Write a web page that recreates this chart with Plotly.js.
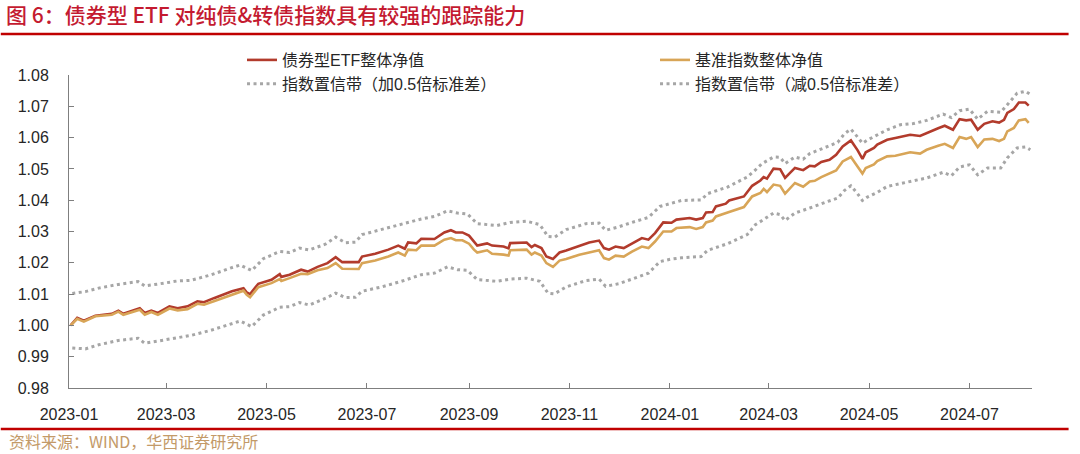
<!DOCTYPE html>
<html>
<head>
<meta charset="utf-8">
<script src="https://cdn.plot.ly/plotly-3.0.1.min.js"></script>
<style>
  html, body { margin: 0; padding: 0; background: #fff; }
  #chart { width: 1080px; height: 454px; }
</style>
</head>
<body>
<div id="chart"></div>
<script>
// Colors
const ETF_COLOR = "#B23B2C"; // brick red
const BENCH_COLOR = "#D8A557"; // tan
const BAND_COLOR = "#A6A6A6"; // grey dots
const TITLE_COLOR = "#C41A30";
const SOURCE_COLOR = "#C39A68";
const AXIS_COLOR = "#7f7f7f";
const FONT = "Liberation Sans, Arial, Noto Sans CJK SC, sans-serif";

// Plot area in pixels (window is 1080x454)
const PLOT = { l: 69, r: 37, t: 75, b: 66 };
const PLOT_W = 1080 - PLOT.l - PLOT.r;
const PLOT_H = 454 - PLOT.t - PLOT.b;

// pixel -> paper helpers for the decorations outside the plot area
const px = (x) => (x - PLOT.l) / PLOT_W;
const py = (y) => 1 - (y - PLOT.t) / PLOT_H;

// Net value of bond ETFs vs. their benchmark indices
const navDates = [
  "2023-01-02", "2023-01-06", "2023-01-10", "2023-01-17", "2023-01-27", "2023-01-31",
  "2023-02-03", "2023-02-13", "2023-02-16", "2023-02-20", "2023-02-24", "2023-03-03",
  "2023-03-08", "2023-03-14", "2023-03-20", "2023-03-24", "2023-03-30", "2023-04-04",
  "2023-04-10", "2023-04-17", "2023-04-19", "2023-04-21", "2023-04-26", "2023-05-04",
  "2023-05-09", "2023-05-10", "2023-05-15", "2023-05-22", "2023-05-26", "2023-06-01",
  "2023-06-07", "2023-06-12", "2023-06-16", "2023-06-26", "2023-06-28", "2023-07-06",
  "2023-07-14", "2023-07-20", "2023-07-24", "2023-07-26", "2023-07-31", "2023-08-03",
  "2023-08-11", "2023-08-17", "2023-08-21", "2023-08-24", "2023-08-28", "2023-09-01",
  "2023-09-04", "2023-09-06", "2023-09-12", "2023-09-15", "2023-09-22", "2023-09-25",
  "2023-09-26", "2023-10-06", "2023-10-09", "2023-10-11", "2023-10-15", "2023-10-18",
  "2023-10-22", "2023-10-26", "2023-10-30", "2023-11-07", "2023-11-13", "2023-11-19",
  "2023-11-22", "2023-11-25", "2023-11-29", "2023-12-04", "2023-12-09", "2023-12-15",
  "2023-12-19", "2023-12-23", "2023-12-28", "2024-01-02", "2024-01-05", "2024-01-13",
  "2024-01-17", "2024-01-21", "2024-01-23", "2024-01-27", "2024-01-29", "2024-02-04",
  "2024-02-06", "2024-02-15", "2024-02-20", "2024-02-25", "2024-02-27", "2024-02-29",
  "2024-03-04", "2024-03-08", "2024-03-11", "2024-03-17", "2024-03-22", "2024-03-26",
  "2024-03-29", "2024-04-02", "2024-04-07", "2024-04-11", "2024-04-15", "2024-04-20",
  "2024-04-24", "2024-04-27", "2024-04-29", "2024-05-04", "2024-05-06", "2024-05-12",
  "2024-05-17", "2024-05-26", "2024-06-01", "2024-06-05", "2024-06-12", "2024-06-16",
  "2024-06-21", "2024-06-25", "2024-06-29", "2024-07-02", "2024-07-06", "2024-07-10",
  "2024-07-15", "2024-07-19", "2024-07-22", "2024-07-24", "2024-07-28", "2024-07-31",
  "2024-08-04", "2024-08-06",
];

const etfNav = [
  1.0000, 1.0024, 1.0015, 1.0031, 1.0037, 1.0047,
  1.0037, 1.0055, 1.0040, 1.0047, 1.0040, 1.0061,
  1.0055, 1.0061, 1.0077, 1.0074, 1.0087, 1.0098,
  1.0109, 1.0119, 1.0105, 1.0100, 1.0133, 1.0146,
  1.0164, 1.0155, 1.0162, 1.0178, 1.0172, 1.0187,
  1.0199, 1.0218, 1.0202, 1.0202, 1.0220, 1.0229,
  1.0242, 1.0255, 1.0245, 1.0265, 1.0262, 1.0277,
  1.0276, 1.0297, 1.0304, 1.0297, 1.0297, 1.0287,
  1.0268, 1.0255, 1.0262, 1.0255, 1.0252, 1.0246,
  1.0263, 1.0265, 1.0250, 1.0257, 1.0247, 1.0220,
  1.0212, 1.0233, 1.0239, 1.0255, 1.0265, 1.0271,
  1.0247, 1.0242, 1.0252, 1.0247, 1.0262, 1.0279,
  1.0274, 1.0295, 1.0329, 1.0328, 1.0338, 1.0343,
  1.0338, 1.0343, 1.0361, 1.0362, 1.0380, 1.0389,
  1.0399, 1.0412, 1.0446, 1.0463, 1.0474, 1.0469,
  1.0501, 1.0499, 1.0471, 1.0503, 1.0496, 1.0510,
  1.0508, 1.0522, 1.0529, 1.0545, 1.0572, 1.0591,
  1.0560, 1.0532, 1.0553, 1.0567, 1.0578, 1.0593,
  1.0599, 1.0609, 1.0605, 1.0615, 1.0630, 1.0638,
  1.0625, 1.0659, 1.0655, 1.0657, 1.0625, 1.0644,
  1.0652, 1.0648, 1.0657, 1.0679, 1.0691, 1.0712,
  1.0712, 1.0702,
];

const benchNav = [
  1.0000, 1.0021, 1.0012, 1.0029, 1.0034, 1.0044,
  1.0034, 1.0050, 1.0034, 1.0043, 1.0034, 1.0054,
  1.0048, 1.0052, 1.0069, 1.0066, 1.0077, 1.0087,
  1.0098, 1.0111, 1.0098, 1.0090, 1.0122, 1.0135,
  1.0148, 1.0142, 1.0151, 1.0165, 1.0164, 1.0176,
  1.0183, 1.0199, 1.0181, 1.0180, 1.0199, 1.0207,
  1.0220, 1.0233, 1.0223, 1.0242, 1.0240, 1.0255,
  1.0255, 1.0274, 1.0279, 1.0272, 1.0272, 1.0261,
  1.0242, 1.0233, 1.0240, 1.0229, 1.0226, 1.0223,
  1.0240, 1.0242, 1.0226, 1.0233, 1.0223, 1.0199,
  1.0187, 1.0207, 1.0212, 1.0226, 1.0233, 1.0240,
  1.0215, 1.0210, 1.0223, 1.0220, 1.0236, 1.0252,
  1.0247, 1.0268, 1.0300, 1.0300, 1.0311, 1.0314,
  1.0308, 1.0314, 1.0329, 1.0335, 1.0348, 1.0357,
  1.0362, 1.0378, 1.0412, 1.0423, 1.0436, 1.0426,
  1.0450, 1.0446, 1.0421, 1.0455, 1.0443, 1.0460,
  1.0462, 1.0474, 1.0485, 1.0495, 1.0524, 1.0538,
  1.0508, 1.0485, 1.0503, 1.0514, 1.0525, 1.0540,
  1.0542, 1.0553, 1.0549, 1.0561, 1.0574, 1.0580,
  1.0567, 1.0602, 1.0596, 1.0602, 1.0570, 1.0594,
  1.0596, 1.0589, 1.0596, 1.0620, 1.0631, 1.0655,
  1.0659, 1.0647,
];

// Index confidence band (+/- 0.5 std), sampled more sparsely
const bandDates = [
  "2023-01-03", "2023-01-11", "2023-01-19", "2023-01-31", "2023-02-12", "2023-02-16",
  "2023-02-24", "2023-03-08", "2023-03-16", "2023-03-28", "2023-04-09", "2023-04-15",
  "2023-04-22", "2023-04-29", "2023-05-09", "2023-05-15", "2023-05-21", "2023-05-27",
  "2023-06-06", "2023-06-12", "2023-06-18", "2023-06-24", "2023-06-28", "2023-07-10",
  "2023-07-22", "2023-08-03", "2023-08-11", "2023-08-19", "2023-08-25", "2023-08-31",
  "2023-09-06", "2023-09-18", "2023-09-26", "2023-10-06", "2023-10-14", "2023-10-19",
  "2023-10-23", "2023-10-30", "2023-11-11", "2023-11-19", "2023-11-23", "2023-12-01",
  "2023-12-09", "2023-12-19", "2023-12-26", "2024-01-02", "2024-01-08", "2024-01-20",
  "2024-01-24", "2024-02-05", "2024-02-17", "2024-02-22", "2024-02-26", "2024-03-04",
  "2024-03-08", "2024-03-11", "2024-03-17", "2024-03-22", "2024-03-26", "2024-04-06",
  "2024-04-12", "2024-04-16", "2024-04-20", "2024-04-24", "2024-04-27", "2024-04-30",
  "2024-05-06", "2024-05-12", "2024-05-20", "2024-05-28", "2024-06-05", "2024-06-15",
  "2024-06-20", "2024-06-25", "2024-07-01", "2024-07-06", "2024-07-12", "2024-07-20",
  "2024-07-24", "2024-07-30", "2024-08-04", "2024-08-07",
];

const bandUpper = [
  1.0102, 1.0108, 1.0119, 1.0131, 1.0140, 1.0126,
  1.0132, 1.0142, 1.0144, 1.0161, 1.0183, 1.0193,
  1.0175, 1.0213, 1.0236, 1.0233, 1.0247, 1.0241,
  1.0260, 1.0282, 1.0264, 1.0266, 1.0290, 1.0306,
  1.0324, 1.0340, 1.0348, 1.0366, 1.0359, 1.0356,
  1.0325, 1.0319, 1.0329, 1.0333, 1.0322, 1.0284,
  1.0282, 1.0306, 1.0325, 1.0327, 1.0304, 1.0315,
  1.0329, 1.0345, 1.0380, 1.0391, 1.0399, 1.0401,
  1.0421, 1.0442, 1.0474, 1.0497, 1.0517, 1.0538,
  1.0537, 1.0517, 1.0538, 1.0531, 1.0549, 1.0572,
  1.0585, 1.0612, 1.0627, 1.0602, 1.0582, 1.0592,
  1.0609, 1.0625, 1.0641, 1.0645, 1.0655, 1.0675,
  1.0664, 1.0686, 1.0691, 1.0659, 1.0684, 1.0681,
  1.0705, 1.0742, 1.0748, 1.0738,
];

const bandLower = [
  0.9928, 0.9925, 0.9938, 0.9952, 0.9959, 0.9943,
  0.9950, 0.9962, 0.9968, 0.9984, 1.0005, 1.0014,
  0.9996, 1.0033, 1.0058, 1.0060, 1.0073, 1.0065,
  1.0087, 1.0103, 1.0089, 1.0090, 1.0109, 1.0123,
  1.0141, 1.0162, 1.0167, 1.0187, 1.0178, 1.0176,
  1.0146, 1.0141, 1.0148, 1.0151, 1.0141, 1.0103,
  1.0101, 1.0123, 1.0143, 1.0148, 1.0125, 1.0133,
  1.0148, 1.0167, 1.0204, 1.0212, 1.0216, 1.0220,
  1.0240, 1.0261, 1.0290, 1.0322, 1.0335, 1.0359,
  1.0354, 1.0335, 1.0359, 1.0367, 1.0375, 1.0396,
  1.0407, 1.0431, 1.0446, 1.0421, 1.0399, 1.0410,
  1.0425, 1.0444, 1.0453, 1.0463, 1.0471, 1.0489,
  1.0478, 1.0506, 1.0513, 1.0481, 1.0503, 1.0503,
  1.0535, 1.0567, 1.0570, 1.0561,
];

const traces = [
  {
    x: navDates,
    y: etfNav,
    name: "债券型ETF整体净值",
    type: "scatter",
    mode: "lines",
    line: { color: ETF_COLOR, width: 2.6 },
  },
  {
    x: navDates,
    y: benchNav,
    name: "基准指数整体净值",
    type: "scatter",
    mode: "lines",
    line: { color: BENCH_COLOR, width: 2.6 },
  },
  {
    x: bandDates,
    y: bandUpper,
    name: "指数置信带（加0.5倍标准差）",
    type: "scatter",
    mode: "lines",
    line: { color: BAND_COLOR, width: 3, dash: "3px,3.5px" },
  },
  {
    x: bandDates,
    y: bandLower,
    name: "指数置信带（减0.5倍标准差）",
    type: "scatter",
    mode: "lines",
    line: { color: BAND_COLOR, width: 3, dash: "3px,3.5px" },
  },
];

const layout = {
  width: 1080,
  height: 454,
  margin: PLOT,
  paper_bgcolor: "#fff",
  plot_bgcolor: "#fff",
  font: { family: FONT, size: 16, color: "#262626" },
  showlegend: true,
  title: {
    text: "图 6：债券型 ETF 对纯债&转债指数具有较强的跟踪能力",
    font: { family: "Noto Sans CJK SC, sans-serif", size: 21, color: TITLE_COLOR, weight: 500 },
    xref: "container",
    yref: "container",
    x: 6 / 1080,
    xanchor: "left",
    y: 1 - 16 / 454,
    yanchor: "middle",
  },
  legend: {
    orientation: "h",
    x: px(244),
    xanchor: "left",
    y: py(43),
    yanchor: "top",
    entrywidth: 368,
    entrywidthmode: "pixels",
    font: { family: FONT, size: 16, color: "#262626" },
    bgcolor: "rgba(0,0,0,0)",
  },
  xaxis: {
    type: "date",
    range: ["2023-01-01", "2024-08-08"],
    tick0: "2023-01-01",
    dtick: "M2",
    tickformat: "%Y-%m",
    ticks: "inside",
    ticklen: 5,
    tickcolor: AXIS_COLOR,
    ticklabelstandoff: 12,
    showline: true,
    linecolor: AXIS_COLOR,
    linewidth: 1,
    showgrid: false,
    zeroline: false,
    tickfont: { family: FONT, size: 16, color: "#262626" },
    fixedrange: true,
  },
  yaxis: {
    range: [0.98, 1.08],
    dtick: 0.01,
    tickformat: ".2f",
    ticks: "inside",
    ticklen: 5,
    tickcolor: AXIS_COLOR,
    ticklabelstandoff: 16,
    showline: true,
    linecolor: AXIS_COLOR,
    linewidth: 1,
    showgrid: false,
    zeroline: false,
    tickfont: { family: FONT, size: 16, color: "#262626" },
    fixedrange: true,
  },
  shapes: [
    // red rule under the title
    {
      type: "line", xref: "paper", yref: "paper",
      x0: px(0), x1: px(1080), y0: py(34), y1: py(34),
      line: { color: "#C00000", width: 2.5 },
    },
    // red rule above the source line
    {
      type: "line", xref: "paper", yref: "paper",
      x0: px(0), x1: px(1080), y0: py(429), y1: py(429),
      line: { color: "#C00000", width: 2.5 },
    },
  ],
  annotations: [
    {
      text: "资料来源：WIND，华西证券研究所",
      xref: "paper", yref: "paper",
      x: px(6), y: py(441),
      xanchor: "left", yanchor: "middle",
      showarrow: false,
      font: { family: "Noto Sans CJK SC, sans-serif", size: 16, color: SOURCE_COLOR },
    },
  ],
};

Plotly.newPlot("chart", traces, layout, { displayModeBar: false, staticPlot: true });
</script>
</body>
</html>
